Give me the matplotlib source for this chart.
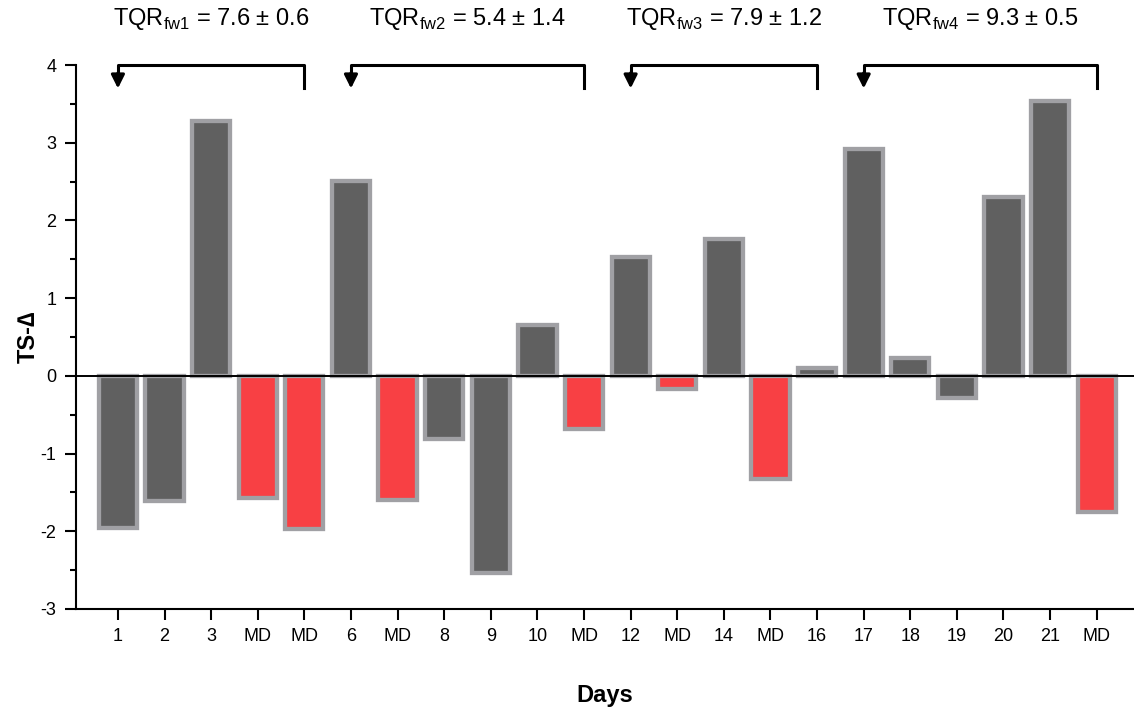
import matplotlib.pyplot as plt
from matplotlib.ticker import MultipleLocator
import numpy as np

plt.rcParams['font.family'] = ['Liberation Sans', 'DejaVu Sans']
plt.rcParams['axes.unicode_minus'] = False

# data
days = ['1', '2', '3', 'MD', 'MD', '6', 'MD', '8', '9', '10', 'MD',
        '12', 'MD', '14', 'MD', '16', '17', '18', '19', '20', '21', 'MD']
ts_delta = [-1.96, -1.61, 3.28, -1.57, -1.97, 2.51, -1.60, -0.81, -2.54, 0.66, -0.69,
            1.53, -0.17, 1.76, -1.33, 0.10, 2.92, 0.23, -0.28, 2.30, 3.54, -1.75]
# bracket (start index, end index) and labels
groups = [(0, 4), (5, 10), (11, 15), (16, 21)]
tqr_sub = ['fw1', 'fw2', 'fw3', 'fw4']
tqr_val = ['7.6 ± 0.6', '5.4 ± 1.4', '7.9 ± 1.2', '9.3 ± 0.5']

fig = plt.figure(figsize=(11.34, 7.08), dpi=100)
ax = fig.add_axes([0.067, 0.14, 0.933, 0.768])

x = np.arange(len(days))
colors = ['#f84044' if d == 'MD' else '#606060' for d in days]
ax.bar(x, ts_delta, width=0.82, color=colors, edgecolor='#a0a0a4', linewidth=3.1, zorder=2)
ax.axhline(0, color='black', lw=1.4, zorder=3)

ax.set_xlim(-0.9, 21.8)
ax.set_ylim(-3, 4)
ax.set_xticks(x)
ax.set_xticklabels(days, fontsize=13)
ax.yaxis.set_major_locator(MultipleLocator(1))
ax.yaxis.set_minor_locator(MultipleLocator(0.5))
for lab in ax.get_yticklabels():
    lab.set_fontsize(13)
ax.tick_params(axis='both', which='major', length=8, width=1.5, direction='out', pad=6)
ax.tick_params(axis='y', which='minor', length=4.5, width=1.5)

ax.spines['top'].set_visible(False)
ax.spines['right'].set_visible(False)
ax.spines['left'].set_linewidth(1.5)
ax.spines['bottom'].set_linewidth(1.5)

ax.set_xlabel('Days', fontsize=17, fontweight='bold', labelpad=28)
ax.set_ylabel('TS-∆', fontsize=17, fontweight='bold')
ax.yaxis.set_label_coords(-0.034, 0.5)

for (s, e), sub, val in zip(groups, tqr_sub, tqr_val):
    ax.plot([s, s, e, e], [3.78, 4.0, 4.0, 3.7], color='black', lw=2.2, clip_on=False, zorder=4)
    ax.annotate('', xy=(s, 3.7), xytext=(s, 3.9), annotation_clip=False,
                arrowprops=dict(arrowstyle='-|>', color='black', lw=2.2,
                                mutation_scale=20, shrinkA=0, shrinkB=0))
    ax.text((s + e) / 2, 4.6, r'TQR$_{\mathregular{%s}}$ = %s' % (sub, val),
            ha='center', va='center', fontsize=17, clip_on=False)

fig.savefig('out.png', dpi=100)
